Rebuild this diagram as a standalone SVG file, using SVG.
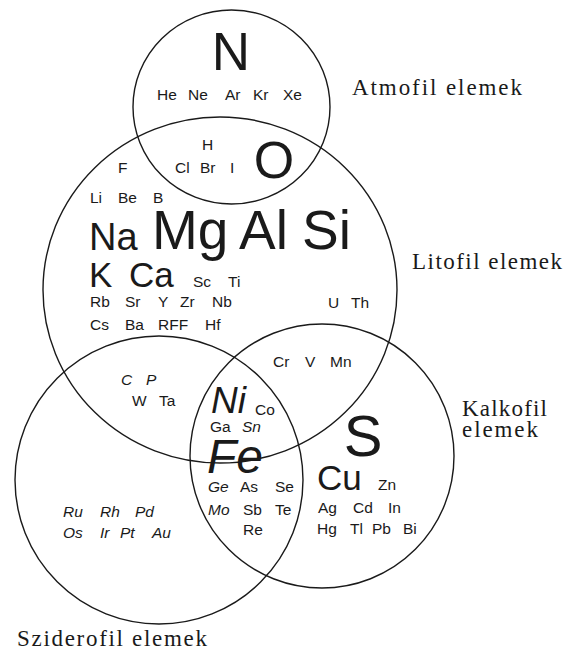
<svg xmlns="http://www.w3.org/2000/svg" width="565" height="653" viewBox="0 0 565 653">
<style>
.c{fill:none;stroke:#1a1a1a;stroke-width:1.4}
.e{font-family:"Liberation Sans",Arial,sans-serif;fill:#1a1a1a}
.s{font-size:15.5px}
.i{font-style:italic}
.lab{font-family:"Liberation Serif","Times New Roman",serif;font-size:23px;fill:#1a1a1a}
</style>
<rect width="565" height="653" fill="#fff"/>
<g id="atmofil">
<ellipse class="c" cx="231.5" cy="107" rx="98.5" ry="97"/>
<text class="lab" x="352" y="95" textLength="170" lengthAdjust="spacing">Atmofil elemek</text>
</g>
<g id="litofil">
<ellipse class="c" cx="220" cy="290" rx="177" ry="173"/>
<text class="lab" x="412" y="269" textLength="150" lengthAdjust="spacing">Litofil elemek</text>
</g>
<g id="siderofil">
<circle class="c" cx="159" cy="480" r="144"/>
<text class="lab" x="17" y="646" textLength="190" lengthAdjust="spacing">Sziderofil elemek</text>
</g>
<g id="kalkofil">
<circle class="c" cx="322" cy="456" r="132"/>
<text class="lab" x="462" y="416" textLength="85" lengthAdjust="spacing">Kalkofil</text>
<text class="lab" x="462" y="437" textLength="76" lengthAdjust="spacing">elemek</text>
</g>
<g id="elements" class="e">
<text x="231" y="70" font-size="53" text-anchor="middle">N</text>
<text class="s" y="100"><tspan x="157">He</tspan><tspan x="188">Ne</tspan><tspan x="225">Ar</tspan><tspan x="253">Kr</tspan><tspan x="283">Xe</tspan></text>
<text class="s" x="202" y="150">H</text>
<text class="s" y="173"><tspan x="175">Cl</tspan><tspan x="200">Br</tspan><tspan x="230">I</tspan></text>
<text x="274" y="178" font-size="52" text-anchor="middle">O</text>
<text class="s" x="118" y="173">F</text>
<text class="s" y="203"><tspan x="90">Li</tspan><tspan x="118">Be</tspan><tspan x="153">B</tspan></text>
<text x="89" y="250" font-size="38">Na</text>
<text x="152" y="249" font-size="55">Mg</text>
<text x="239" y="249" font-size="55">Al</text>
<text x="302" y="249" font-size="55">Si</text>
<text x="89" y="287" font-size="35">K</text>
<text x="129" y="287" font-size="35">Ca</text>
<text class="s" y="287" font-size="16.5"><tspan x="193">Sc</tspan><tspan x="228">Ti</tspan></text>
<text class="s" y="307"><tspan x="90">Rb</tspan><tspan x="125">Sr</tspan><tspan x="158">Y</tspan><tspan x="180">Zr</tspan><tspan x="212">Nb</tspan></text>
<text class="s" y="330"><tspan x="90">Cs</tspan><tspan x="125">Ba</tspan><tspan x="158">RFF</tspan><tspan x="205">Hf</tspan></text>
<text class="s" y="308"><tspan x="328">U</tspan><tspan x="351">Th</tspan></text>
<text class="s" y="367"><tspan x="273">Cr</tspan><tspan x="305">V</tspan><tspan x="330">Mn</tspan></text>
<text class="s i" y="385"><tspan x="121">C</tspan><tspan x="146">P</tspan></text>
<text class="s" y="406"><tspan x="132">W</tspan><tspan x="159">Ta</tspan></text>
<text class="i" x="211" y="413" font-size="37">Ni</text>
<text class="s" x="255" y="415">Co</text>
<text class="s" y="432"><tspan x="210">Ga</tspan><tspan x="242" font-style="italic">Sn</tspan></text>
<text class="i" x="207" y="473" font-size="48">Fe</text>
<text x="363" y="456" font-size="58" text-anchor="middle">S</text>
<text x="317" y="490" font-size="35">Cu</text>
<text class="s" x="378" y="490">Zn</text>
<text class="s" y="513"><tspan x="318">Ag</tspan><tspan x="353">Cd</tspan><tspan x="388">In</tspan></text>
<text class="s" y="534"><tspan x="317">Hg</tspan><tspan x="350">Tl</tspan><tspan x="372">Pb</tspan><tspan x="403">Bi</tspan></text>
<text class="s" y="492"><tspan x="208" font-style="italic">Ge</tspan><tspan x="240">As</tspan><tspan x="275">Se</tspan></text>
<text class="s" y="515"><tspan x="208" font-style="italic">Mo</tspan><tspan x="243">Sb</tspan><tspan x="275">Te</tspan></text>
<text class="s" x="243" y="535">Re</text>
<text class="s i" y="517"><tspan x="63">Ru</tspan><tspan x="100">Rh</tspan><tspan x="135">Pd</tspan></text>
<text class="s i" y="538"><tspan x="63">Os</tspan><tspan x="100">Ir</tspan><tspan x="120">Pt</tspan><tspan x="152">Au</tspan></text>
</g>
</svg>
